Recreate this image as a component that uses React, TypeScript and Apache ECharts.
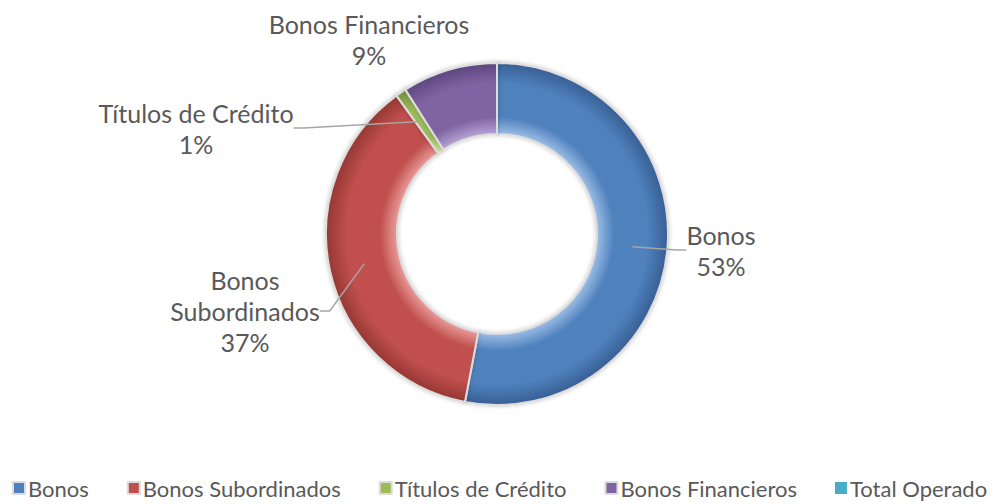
import React, { useEffect, useRef } from "react";
import * as echarts from "echarts";

const categories = ["Bonos", "Bonos Subordinados", "Títulos de Crédito", "Bonos Financieros", "Total Operado"];
const values = [53, 37, 1, 9, 0];
const baseColors = ["#4f81bd", "#c0504d", "#9bbb59", "#8064a2", "#4bacc6"];
const lightColors = ["#9cbde6", "#e89c9a", "#cfe3a3", "#b7a3d4", "#9ad6e8"];
const darkColors = ["#385f94", "#963734", "#76913f", "#5e4680", "#318aa2"];

// label anchor positions (layout only)
const labelPos: Record<string, [number, number]> = {
  "Bonos": [721, 250],
  "Bonos Subordinados": [245, 311],
  "Títulos de Crédito": [196, 128],
  "Bonos Financieros": [369, 39],
};

const CX = 497;
const CY = 234;
const R_OUT = 171;
const R_IN = 100;
const R_MID = 136;
const FONT = "Lato";

export default function App() {
  const ref = useRef<HTMLDivElement>(null);
  useEffect(() => {
    if (!ref.current) return;
    const chart = echarts.init(ref.current, null, { renderer: "svg" });
    const ratioIn = R_IN / R_OUT;
    const ringData = categories.map((name, i) => ({
      name,
      value: values[i],
      itemStyle: {
        color: {
          type: "radial",
          x: CX,
          y: CY,
          r: R_OUT,
          global: true,
          colorStops: [
            { offset: 0, color: lightColors[i] },
            { offset: ratioIn, color: lightColors[i] },
            { offset: ratioIn + 0.1, color: baseColors[i] },
            { offset: 0.88, color: baseColors[i] },
            { offset: 1, color: darkColors[i] },
          ],
        },
        borderWidth: values[i] === 0 ? 0 : 2,
      },
    }));
    const labelData = categories.map((name, i) => ({
      name,
      value: values[i],
      label: values[i] === 0 ? { show: false } : undefined,
      labelLine: values[i] === 0 || name === "Bonos Financieros" ? { show: false } : undefined,
    }));
    chart.setOption({
      animation: false,
      backgroundColor: "#ffffff",
      color: baseColors,
      legend: {
        data: categories.map((name, i) => ({ name, itemStyle: { color: baseColors[i] } })),
        bottom: 5,
        left: 12,
        padding: 0,
        itemWidth: 12,
        itemHeight: 12,
        itemGap: 38,
        icon: "rect",
        textStyle: { fontFamily: FONT, fontSize: 22, color: "#595959", padding: [0, 0, 0, -2] },
      },
      series: [
        {
          type: "pie",
          center: [CX, CY],
          radius: [R_IN, R_OUT],
          startAngle: 90,
          clockwise: true,
          silent: true,
          stillShowZeroSum: false,
          itemStyle: {
            borderColor: "#dcdcdc",
            borderWidth: 2,
            shadowBlur: 4,
            shadowColor: "rgba(0,0,0,0.25)",
          },
          label: { show: false },
          labelLine: { show: false },
          data: ringData,
        },
        {
          type: "pie",
          z: 3,
          center: [CX, CY],
          radius: [0, R_MID],
          startAngle: 90,
          clockwise: true,
          silent: true,
          avoidLabelOverlap: false,
          stillShowZeroSum: false,
          itemStyle: { color: "transparent", borderWidth: 0 },
          label: {
            show: true,
            position: "outside",
            fontFamily: FONT,
            fontSize: 25,
            lineHeight: 31,
            color: "#595959",
            align: "center",
            formatter: (p: any) =>
              (p.name === "Bonos Subordinados" ? "Bonos\nSubordinados" : p.name) + "\n" + Math.round(p.percent) + "%",
          },
          labelLine: {
            show: true,
            length: 10,
            length2: 10,
            lineStyle: { color: "#a6a6a6", width: 1.5 },
          },
          labelLayout: (params: any) => {
            const name = categories[params.dataIndex];
            const pos = labelPos[name];
            if (!pos) return {};
            return { x: pos[0], y: pos[1], align: "center", verticalAlign: "middle" };
          },
          data: labelData,
        },
      ],
    });
    return () => chart.dispose();
  }, []);
  return (
    <div
      ref={ref}
      style={{ position: "fixed", left: 0, top: 0, width: 995, height: 504, background: "#fff" }}
    />
  );
}
